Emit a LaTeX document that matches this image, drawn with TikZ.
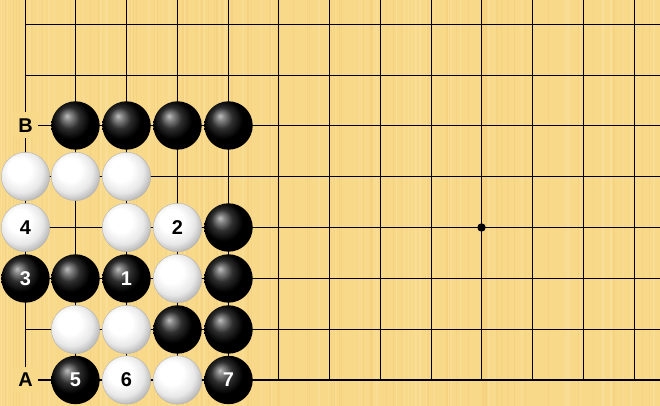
\documentclass[tikz,border=0pt]{standalone}
\usepackage{fontspec}
\setmainfont{Liberation Sans}
\definecolor{board}{HTML}{F8D889}
\definecolor{boardlight}{HTML}{FBE19C}
\definecolor{boarddark}{HTML}{F4D07C}
\pgfdeclareradialshading{blackstone}{\pgfpoint{-9bp}{10bp}}{color(0bp)=(black!25); color(4bp)=(black!48); color(11bp)=(black!82); color(20bp)=(black); color(50bp)=(black)}
\pgfdeclareradialshading{whitestone}{\pgfpoint{-8bp}{9bp}}{color(0bp)=(white); color(12bp)=(white); color(22bp)=(black!9); color(29bp)=(black!27); color(36bp)=(black!46); color(50bp)=(black!50)}
\tikzset{
  gridline/.style={line width=0.8bp, black},
  edgeline/.style={line width=0.9bp, black},
  bottomline/.style={line width=1.1bp, black},
  stone/.style={circle, minimum size=24.2bp, inner sep=0pt, font=\bfseries\fontsize{10pt}{12pt}\selectfont},
  bstone/.style={stone, shading=blackstone, text=white},
  wstone/.style={stone, shading=whitestone, draw=black!30, line width=0.2bp, text=black},
  lbl/.style={fill=board, inner sep=0pt, minimum width=12bp, minimum height=13bp, font=\bfseries\fontsize{10pt}{12pt}\selectfont},
  star/.style={circle, fill=black, inner sep=0pt, minimum size=4.2bp}
}
\begin{document}
\begin{tikzpicture}[x=0.5bp,y=-0.5bp]
\useasboundingbox (0,0) rectangle (660,406);
\fill[board] (0,0) rectangle (660,406);
\pgfmathsetseed{11}
\foreach \i in {1,...,160}{
  \pgfmathsetmacro{\xx}{rnd*660}
  \pgfmathsetmacro{\ww}{0.5+rnd*1.3}
  \pgfmathsetmacro{\cc}{rnd}
  \ifdim\cc pt<0.5pt
    \fill[boardlight,opacity=0.6] (\xx,0) rectangle ++(\ww,406);
  \else
    \fill[boarddark,opacity=0.5] (\xx,0) rectangle ++(\ww,406);
  \fi
}
% intersections
\foreach \c/\x in {1/25.5,2/75.5,3/126.5,4/177.5,5/228.5,6/278.5,7/329.5,8/380.5,9/431.5,10/481.5,11/532.5,12/583.5,13/634.5}{
  \foreach \r/\y in {1/380,2/329.5,3/278.5,4/227.5,5/176.5,6/125.5,7/75.5,8/24.5}{
    \coordinate (p\c-\r) at (\x,\y);
  }
}
\foreach \c in {2,...,13} \draw[gridline] (p\c-1) -- (p\c-8 |- 0,0);
\foreach \r in {2,...,8} \draw[gridline] (p1-\r) -- (p1-\r -| 660,0);
\draw[edgeline] (p1-8 |- 0,0) -- (p1-1);
\draw[bottomline] (p1-1) -- (p1-1 -| 660,0);
\node[star] (hoshi) at (p10-4) {};
% labels
\node[lbl] (B) at (p1-6) {B};
\node[lbl] (A) at (p1-1) {A};
% row 6
\node[bstone] (b26) at (p2-6) {};
\node[bstone] (b36) at (p3-6) {};
\node[bstone] (b46) at (p4-6) {};
\node[bstone] (b56) at (p5-6) {};
% row 5
\node[wstone] (w15) at (p1-5) {};
\node[wstone] (w25) at (p2-5) {};
\node[wstone] (w35) at (p3-5) {};
% row 4
\node[wstone] (m4) at (p1-4) {4};
\node[wstone] (w34) at (p3-4) {};
\node[wstone] (m2) at (p4-4) {2};
\node[bstone] (b54) at (p5-4) {};
% row 3
\node[bstone] (m3) at (p1-3) {3};
\node[bstone] (b23) at (p2-3) {};
\node[bstone] (m1) at (p3-3) {1};
\node[wstone] (w43) at (p4-3) {};
\node[bstone] (b53) at (p5-3) {};
% row 2
\node[wstone] (w22) at (p2-2) {};
\node[wstone] (w32) at (p3-2) {};
\node[bstone] (b42) at (p4-2) {};
\node[bstone] (b52) at (p5-2) {};
% row 1
\node[bstone] (m5) at (p2-1) {5};
\node[wstone] (m6) at (p3-1) {6};
\node[wstone] (w41) at (p4-1) {};
\node[bstone] (m7) at (p5-1) {7};
\end{tikzpicture}
\end{document}
